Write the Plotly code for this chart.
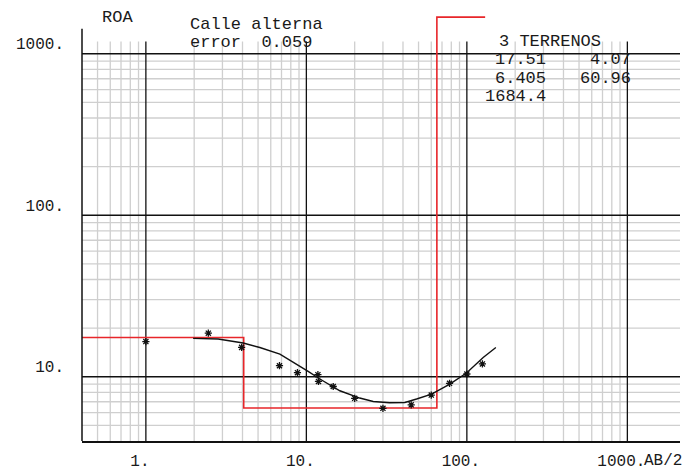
import math
import plotly.graph_objects as go

# ---- data ----
ab2_obs = [1.0, 2.45, 3.95, 6.8, 8.8, 11.8, 11.9, 14.7, 20.0, 30.0, 45.0, 60.0, 78.0, 100.0, 125.0]
roa_obs = [16.5, 18.6, 15.2, 11.7, 10.6, 10.3, 9.35, 8.7, 7.35, 6.37, 6.7, 7.7, 9.1, 10.4, 12.0]

ab2_fit = [1.97, 2.82, 4.04, 5.13, 6.84, 8.69, 10.26, 12.14, 16.17, 21.5, 26.1, 33.0, 41.1, 48.6, 60.3, 78.3, 99.5, 126.4, 151.6]
roa_fit = [17.27, 17.12, 16.17, 15.18, 13.82, 11.98, 10.78, 9.68, 8.19, 7.38, 7.03, 6.9, 6.93, 7.28, 7.81, 9.01, 10.54, 13.17, 15.18]

layer_rho = [17.51, 6.405, 1684.4]
layer_h = [4.07, 60.96]
model_xmin = 0.4
model_xmax = 130.0

x_major = [1, 10, 100, 1000]
x_labels = ["1.", "10.", "100.", "1000."]
y_major = [10, 100, 1000]
y_labels = ["10.", "100.", "1000."]
x_minor = [m * d for d in (0.1, 1, 10, 100) for m in range(2, 10) if m * d >= 0.5]
y_minor = [m * d for d in (1, 10, 100) for m in range(2, 10) if m * d >= 5]

title_lines = ["Calle alterna", "error  0.059"]
model_title = "3 TERRENOS"

# ---- geometry ----
X_RANGE = [math.log10(0.4), 3.328]
Y_RANGE = [math.log10(4), 3.3018]
GRID_TOP = 1190
AXIS_TOP = 1430
M_L, M_R, M_T, M_B = 82, 4, 5, 29
W, H = 684, 470
PW, PH = W - M_L - M_R, H - M_T - M_B

FONT = "Liberation Mono, Courier New, monospace"
TXT = "#1a1a1a"


def px(xp):
    return (xp - M_L) / PW


def py(yp):
    return (H - M_B - yp) / PH


fig = go.Figure()

xs_lo, xs_hi = 10 ** X_RANGE[0], 10 ** X_RANGE[1]
y_lo = 10 ** Y_RANGE[0]


def hlines(vals):
    xx, yy = [], []
    for v in vals:
        xx += [xs_lo, xs_hi, None]
        yy += [v, v, None]
    return xx, yy


def vlines(vals):
    xx, yy = [], []
    for v in vals:
        xx += [v, v, None]
        yy += [y_lo, GRID_TOP, None]
    return xx, yy


for fn, vals, col, wd in [
    (hlines, y_minor, "#cfcfcf", 1.3),
    (vlines, x_minor, "#cfcfcf", 1.3),
    (hlines, y_major, "#111111", 1.3),
    (vlines, x_major, "#111111", 1.3),
]:
    gx, gy = fn(vals)
    fig.add_trace(go.Scatter(x=gx, y=gy, mode="lines", line=dict(color=col, width=wd),
                             hoverinfo="skip", showlegend=False))

# layered model (red)
bounds = [model_xmin]
acc = 0.0
for h in layer_h:
    acc += h
    bounds.append(acc)
bounds.append(model_xmax)
mx, my = [], []
for i, r in enumerate(layer_rho):
    mx += [bounds[i], bounds[i + 1]]
    my += [r, r]
fig.add_trace(go.Scatter(x=mx, y=my, mode="lines", line=dict(color="#e8262a", width=1.6),
                         hoverinfo="skip", showlegend=False))

# fitted curve
fig.add_trace(go.Scatter(x=ab2_fit, y=roa_fit, mode="lines", line=dict(color="#111111", width=1.4),
                         showlegend=False))

# observed points
fig.add_trace(go.Scatter(x=ab2_obs, y=roa_obs, mode="markers",
                         marker=dict(symbol="asterisk", size=6, color="#111111",
                                     line=dict(color="#111111", width=1.3)),
                         showlegend=False))

fig.update_xaxes(type="log", range=X_RANGE, showgrid=False, zeroline=False, automargin=False,
                 showline=True, linecolor="#111111", linewidth=1.5,
                 tickmode="array", tickvals=x_major, ticktext=x_labels, ticks="",
                 tickfont=dict(family=FONT, size=16, color=TXT),
                 ticklabelshift=-6, ticklabelstandoff=4)
fig.update_yaxes(type="log", range=Y_RANGE, showgrid=False, zeroline=False, automargin=False,
                 showline=False,
                 tickmode="array", tickvals=y_major, ticktext=y_labels, ticks="",
                 tickfont=dict(family=FONT, size=16, color=TXT),
                 ticklabelshift=-10, ticklabelstandoff=17)

# left axis line (stops below the top of the plot area)
fig.add_shape(type="line", xref="paper", yref="paper", x0=0, x1=0, y0=0,
              y1=(math.log10(AXIS_TOP) - Y_RANGE[0]) / (Y_RANGE[1] - Y_RANGE[0]),
              line=dict(color="#111111", width=1.5))

ann = [
    ("ROA", 100, 18, "left", 17),
    (title_lines[0], 188, 24, "left", 17),
    (title_lines[1], 188, 42.5, "left", 17),
    (model_title, 497, 42, "left", 17),
    (f"{layer_rho[0]}", 548, 60, "right", 17),
    (f"{layer_h[0]}", 633, 60, "right", 17),
    (f"{layer_rho[1]}", 548, 79, "right", 17),
    (f"{layer_h[1]}", 633, 79, "right", 17),
    (f"{layer_rho[2]}", 548, 97, "right", 17),
    ("AB/2", 642, 461, "left", 16),
]
for t, x, y, anc, fs in ann:
    fig.add_annotation(text=t, xref="paper", yref="paper", x=px(x), y=py(y),
                       xanchor=anc, yanchor="middle", showarrow=False,
                       font=dict(family=FONT, size=fs, color=TXT))

fig.update_layout(width=W, height=H, margin=dict(l=M_L, r=M_R, t=M_T, b=M_B),
                  paper_bgcolor="white", plot_bgcolor="white", showlegend=False)

fig.write_html("out.html")
